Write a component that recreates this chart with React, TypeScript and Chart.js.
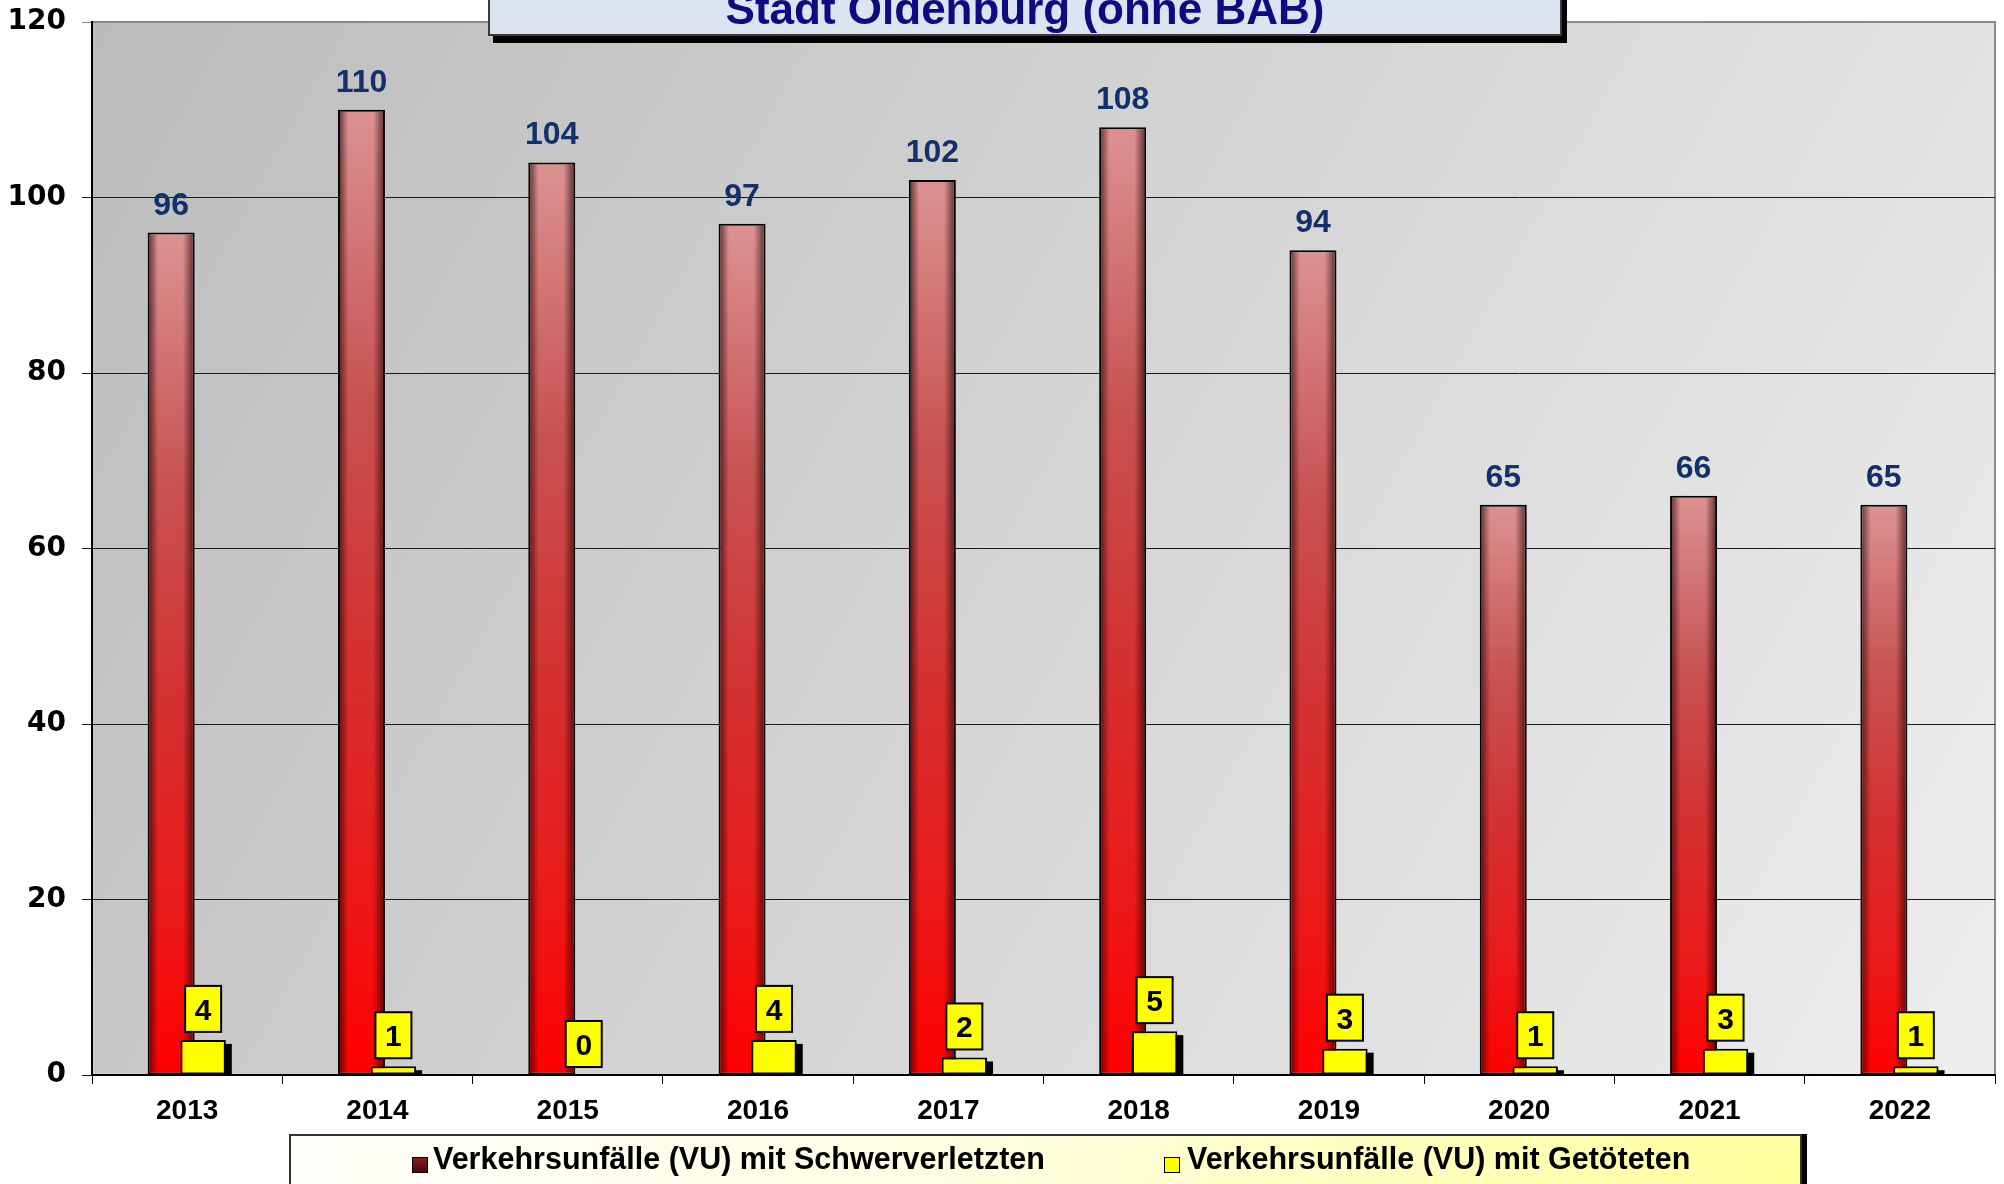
import React, { useEffect, useRef } from 'react';
import { Chart, registerables } from 'chart.js';

Chart.register(...registerables);

const years = ['2013', '2014', '2015', '2016', '2017', '2018', '2019', '2020', '2021', '2022'];
const schwerverletzte = [96, 110, 104, 97, 102, 108, 94, 65, 66, 65];
const getoetete = [4, 1, 0, 4, 2, 5, 3, 1, 3, 1];
const yMin = 0;
const yMax = 120;
const yStep = 20;
const seriesLabels = [
  'Verkehrsunfälle (VU) mit Schwerverletzten',
  'Verkehrsunfälle (VU) mit Getöteten',
];
const titleText = 'Stadt Oldenburg (ohne BAB)';

const W = 2004;
const H = 1184;

const decorPlugin = {
  id: 'decor',
  beforeDraw(chart: any) {
    const { ctx, chartArea: a } = chart;
    if (!a) return;
    ctx.save();
    const g = ctx.createLinearGradient(a.left, a.top, a.right, a.bottom);
    g.addColorStop(0, '#bcbcbc');
    g.addColorStop(1, '#eeeeee');
    ctx.fillStyle = g;
    ctx.fillRect(a.left, a.top, a.right - a.left, a.bottom - a.top);
    ctx.strokeStyle = '#8a8a8a';
    ctx.lineWidth = 2;
    ctx.beginPath();
    ctx.moveTo(a.left, a.top);
    ctx.lineTo(a.right, a.top);
    ctx.lineTo(a.right, a.bottom);
    ctx.stroke();
    ctx.restore();
  },
  beforeDatasetDraw(chart: any, args: any) {
    if (args.index === 1) return false;
    return true;
  },
  afterDatasetDraw(chart: any, args: any) {
    if (args.index !== 0) return;
    const { ctx } = chart;
    ctx.save();
    args.meta.data.forEach((el: any) => {
      const { x, y, base, width } = el.getProps(['x', 'y', 'base', 'width'], true);
      const l = x - width / 2;
      const r = x + width / 2;
      const g = ctx.createLinearGradient(l, 0, r, 0);
      g.addColorStop(0, 'rgba(30,0,0,0.7)');
      g.addColorStop(0.22, 'rgba(30,0,0,0)');
      g.addColorStop(0.75, 'rgba(30,0,0,0)');
      g.addColorStop(1, 'rgba(30,0,0,0.7)');
      ctx.fillStyle = g;
      ctx.fillRect(l + 2, y + 2, width - 4, base - y - 4);
    });
    ctx.restore();
  },
  afterDatasetsDraw(chart: any) {
    const { ctx, chartArea: a } = chart;
    const meta1 = chart.getDatasetMeta(1);
    // shadows of yellow bars
    ctx.save();
    ctx.fillStyle = '#000';
    meta1.data.forEach((el: any) => {
      const { x, y, base, width } = el.getProps(['x', 'y', 'base', 'width'], true);
      if (base - y > 1) {
        ctx.fillRect(x - width / 2 + 6, y + 4, width, base - y - 4);
      }
    });
    ctx.restore();
    // yellow bars on top of red ones
    ctx.save();
    ctx.beginPath();
    ctx.rect(a.left, a.top, a.right - a.left, a.bottom - a.top);
    ctx.clip();
    meta1.controller.draw();
    ctx.restore();

    // value labels
    const meta0 = chart.getDatasetMeta(0);
    ctx.save();
    ctx.textAlign = 'center';
    ctx.textBaseline = 'alphabetic';
    ctx.font = 'bold 32px "Liberation Sans", Arial, sans-serif';
    ctx.fillStyle = '#12306a';
    meta0.data.forEach((el: any, i: number) => {
      const { x, y } = el.getProps(['x', 'y'], true);
      ctx.fillText(String(schwerverletzte[i]), x, y - 18);
    });
    ctx.font = 'bold 30px "Liberation Sans", Arial, sans-serif';
    meta1.data.forEach((el: any, i: number) => {
      const { x, y } = el.getProps(['x', 'y'], true);
      const bw = 36;
      const bh = 46;
      const bottom = y - 8;
      const top = bottom - bh;
      ctx.fillStyle = '#ffff00';
      ctx.fillRect(x - bw / 2, top, bw, bh);
      ctx.strokeStyle = '#000';
      ctx.lineWidth = 2;
      ctx.strokeRect(x - bw / 2, top, bw, bh);
      ctx.fillStyle = '#000';
      ctx.fillText(String(getoetete[i]), x, top + bh / 2 + 11);
    });
    ctx.restore();
  },
};

function redGradient(c: any) {
  const chart = c.chart;
  const ys = chart.scales && chart.scales.y;
  if (!ys || c.type !== 'data') return '#e02020';
  const top = ys.getPixelForValue(c.raw as number);
  const bot = ys.getPixelForValue(0);
  if (!isFinite(top) || !isFinite(bot) || Math.abs(bot - top) < 1) return '#e02020';
  const g = chart.ctx.createLinearGradient(0, top, 0, bot);
  g.addColorStop(0, '#dc9292');
  g.addColorStop(0.3, '#c85252');
  g.addColorStop(0.55, '#d43232');
  g.addColorStop(0.8, '#ea1a1a');
  g.addColorStop(1, '#ff0000');
  return g;
}

export default function App() {
  const ref = useRef<HTMLCanvasElement | null>(null);

  useEffect(() => {
    if (!ref.current) return;
    const chart = new Chart(ref.current, {
      type: 'bar',
      data: {
        labels: years,
        datasets: [
          {
            label: seriesLabels[0],
            data: schwerverletzte,
            backgroundColor: redGradient,
            borderColor: '#000',
            borderWidth: 2,
            borderSkipped: false,
            categoryPercentage: 0.336,
            barPercentage: 1.47,
          },
          {
            label: seriesLabels[1],
            data: getoetete,
            backgroundColor: '#ffff00',
            borderColor: '#000',
            borderWidth: 2,
            borderSkipped: false,
            categoryPercentage: 0.336,
            barPercentage: 1.42,
          },
        ],
      },
      options: {
        responsive: false,
        animation: false,
        devicePixelRatio: 1,
        layout: { padding: { left: 0, top: 22, right: 9, bottom: 0 } },
        plugins: {
          legend: { display: false },
          title: { display: false },
          tooltip: { enabled: false },
        },
        scales: {
          x: {
            offset: true,
            grid: {
              display: true,
              drawOnChartArea: false,
              drawTicks: true,
              tickLength: 9,
              color: '#000',
              lineWidth: 1,
              offset: true,
            },
            border: { display: true, color: '#000', width: 2 },
            ticks: {
              color: '#000',
              padding: 10,
              font: { family: '"Liberation Sans", Arial, sans-serif', size: 28, weight: 'bold' },
            },
            afterFit: (s: any) => {
              s.height = 109;
            },
          },
          y: {
            min: yMin,
            max: yMax,
            ticks: {
              stepSize: yStep,
              color: '#000',
              padding: 16,
              font: { family: '"DejaVu Sans", sans-serif', size: 28, weight: 'bold' },
            },
            grid: {
              color: (c: any) => (c.tick && c.tick.value === yMax ? '#8a8a8a' : '#1a1a1a'),
              lineWidth: 1,
              drawTicks: true,
              tickLength: 10,
            },
            border: { display: true, color: '#000', width: 2 },
            afterFit: (s: any) => {
              s.width = 92;
              s.paddingTop = 0;
              s.paddingBottom = 0;
            },
          },
        },
      },
      plugins: [decorPlugin],
    } as any);
    return () => chart.destroy();
  }, []);

  const legendFont = 'bold 30.5px "Liberation Sans", Arial, sans-serif';

  return (
    <div
      style={{
        position: 'absolute',
        left: 0,
        top: 0,
        width: W,
        height: H,
        overflow: 'hidden',
        background: '#ffffff',
      }}
    >
      <canvas ref={ref} width={W} height={H} style={{ display: 'block', width: W, height: H }} />
      <div
        style={{
          position: 'absolute',
          left: 488,
          top: -40,
          width: 1074,
          height: 76,
          boxSizing: 'border-box',
          border: '2px solid #3a3a3a',
          background: '#dbe5f1',
          boxShadow: '5px 7px 0 #000',
        }}
      >
        <div
          style={{
            position: 'absolute',
            left: 0,
            right: 0,
            top: 25,
            textAlign: 'center',
            font: 'bold 44px "Liberation Sans", Arial, sans-serif',
            lineHeight: '44px',
            color: '#0c0c82',
            whiteSpace: 'nowrap',
          }}
        >
          {titleText}
        </div>
      </div>
      <div
        style={{
          position: 'absolute',
          left: 289,
          top: 1134,
          width: 1513,
          height: 80,
          boxSizing: 'border-box',
          border: '2px solid #333',
          background: 'linear-gradient(100deg, #fffffa 0%, #fffde0 45%, #ffff9c 100%)',
          boxShadow: '5px 0 0 #000',
        }}
      >
        <div
          style={{
            position: 'absolute',
            left: 121,
            top: 21,
            width: 14,
            height: 14,
            border: '1px solid #000',
            background: 'linear-gradient(180deg, #8a1c1c, #4a0808)',
          }}
        />
        <div
          style={{
            position: 'absolute',
            left: 142,
            top: 7,
            font: legendFont,
            lineHeight: '31px',
            color: '#000',
            whiteSpace: 'nowrap',
          }}
        >
          {seriesLabels[0]}
        </div>
        <div
          style={{
            position: 'absolute',
            left: 873,
            top: 21,
            width: 14,
            height: 14,
            border: '1px solid #000',
            background: '#ffff00',
          }}
        />
        <div
          style={{
            position: 'absolute',
            left: 896,
            top: 7,
            font: legendFont,
            lineHeight: '31px',
            color: '#000',
            whiteSpace: 'nowrap',
          }}
        >
          {seriesLabels[1]}
        </div>
      </div>
    </div>
  );
}
